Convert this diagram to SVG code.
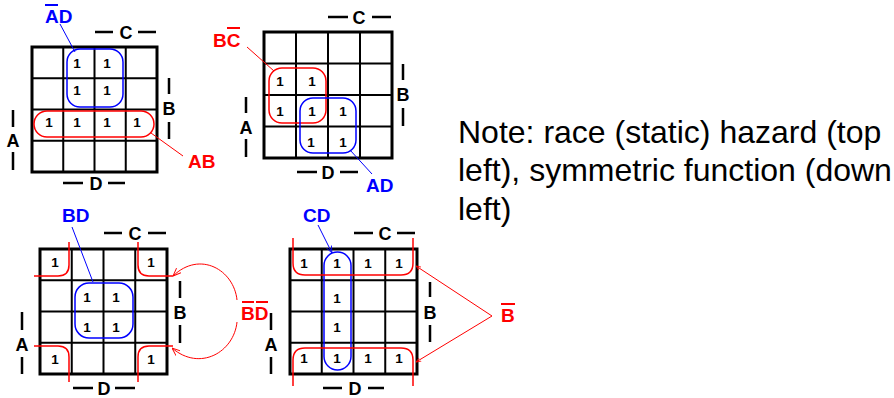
<svg xmlns="http://www.w3.org/2000/svg" width="894" height="398" viewBox="0 0 894 398">
<style>
.bg{fill:#fff}
.outer{fill:none;stroke:#000;stroke-width:3}
.inner{stroke:#000;stroke-width:2}
.bar{stroke:#000;stroke-width:2.5}
.one{font-family:"Liberation Sans",Arial,sans-serif;font-weight:bold;font-size:13.5px;text-anchor:middle;fill:#000}
.var{font-family:"Liberation Sans",Arial,sans-serif;font-weight:bold;font-size:18px;text-anchor:middle;fill:#000}
.fn{font-family:"Liberation Sans",Arial,sans-serif;font-weight:bold;font-size:19px}
.red{fill:#ff0000}
.blue{fill:#0000ff}
.rloop{fill:none;stroke:#ff0000;stroke-width:1.5}
.bloop{fill:none;stroke:#0000ff;stroke-width:1.5}
.rlead{fill:none;stroke:#ff0000;stroke-width:1}
.blead{fill:none;stroke:#0000ff;stroke-width:1}
.rbar{stroke:#ff0000;stroke-width:2}
.bbar{stroke:#0000ff;stroke-width:2}
.note{font-family:"Liberation Sans",Arial,sans-serif;font-size:32px;fill:#000}
</style>
<defs>
<marker id="ar" viewBox="0 0 10 10" refX="10" refY="5" markerWidth="8" markerHeight="8" orient="auto" markerUnits="userSpaceOnUse">
<path d="M0,1 L10,5 L0,9" fill="none" stroke="#ff0000" stroke-width="1.2"/>
</marker>
<marker id="as" viewBox="0 0 10 10" refX="10" refY="5" markerWidth="5" markerHeight="5" orient="auto" markerUnits="userSpaceOnUse">
<path d="M0,1 L10,5 L0,9" fill="none" stroke="#ff0000" stroke-width="1.5"/>
</marker>
<marker id="ab" viewBox="0 0 10 10" refX="10" refY="5" markerWidth="7" markerHeight="7" orient="auto" markerUnits="userSpaceOnUse">
<path d="M0,1 L10,5 L0,9" fill="none" stroke="#0000ff" stroke-width="1.2"/>
</marker>
</defs>
<rect class="bg" x="0" y="0" width="894" height="398"/>

<!-- Map 1 -->
<g id="map1">
<path class="inner" d="M63.25,47 V172 M94.5,47 V172 M125.75,47 V172 M32,78.25 H157 M32,109.5 H157 M32,140.75 H157"/>
<rect class="outer" x="32" y="47" width="125" height="125"/>
<text class="one" x="77" y="68">1</text><text class="one" x="107" y="68">1</text>
<text class="one" x="77" y="95">1</text><text class="one" x="107" y="95">1</text>
<text class="one" x="49" y="127">1</text><text class="one" x="77" y="127">1</text><text class="one" x="107" y="127">1</text><text class="one" x="137" y="127">1</text>
<path class="bar" d="M95,32 H113 M138,32 H156 M169,78 V94 M169,122 V139 M13,110 V127 M13,152 V170 M63,183 H83 M108,183 H125"/>
<text class="var" x="126" y="38.5">C</text>
<text class="var" x="169" y="114.5">B</text>
<text class="var" x="13" y="146.5">A</text>
<text class="var" x="96" y="189.5">D</text>
<rect class="bloop" x="67" y="49" width="56" height="58" rx="13"/>
<rect class="rloop" x="34" y="111" width="120" height="26" rx="13"/>
<text class="fn blue" x="45" y="23">AD</text>
<line class="bbar" x1="45" y1="5" x2="58" y2="5"/>
<text class="fn red" x="188" y="168">AB</text>
</g>

<!-- Map 2 -->
<g id="map2">
<path class="inner" d="M296,32 V158 M328,32 V158 M360,32 V158 M264,63.5 H392 M264,95 H392 M264,126.5 H392"/>
<rect class="outer" x="264" y="32" width="128" height="126"/>
<text class="one" x="280" y="86">1</text><text class="one" x="312" y="86">1</text>
<text class="one" x="280" y="116">1</text><text class="one" x="312" y="116">1</text><text class="one" x="343" y="116">1</text>
<text class="one" x="311" y="147">1</text><text class="one" x="343" y="147">1</text>
<path class="bar" d="M328,17 H348 M372,17 H391 M403,64 V80 M403,108 V126 M246,97 V113 M246,139 V157 M297,172 H317 M340,172 H358"/>
<text class="var" x="359" y="23.5">C</text>
<text class="var" x="403" y="100.5">B</text>
<text class="var" x="246" y="133.5">A</text>
<text class="var" x="328" y="178.5">D</text>
<rect class="rloop" x="269" y="68" width="57" height="55" rx="13"/>
<rect class="bloop" x="300" y="98" width="56" height="55" rx="13"/>
<text class="fn red" x="213" y="47">BC</text>
<line class="rbar" x1="227" y1="28" x2="240" y2="28"/>
<text class="fn blue" x="366" y="192">AD</text>
</g>

<!-- Map 3 -->
<g id="map3">
<path class="inner" d="M71.75,249 V374 M103.5,249 V374 M135.25,249 V374 M40,280.25 H167 M40,311.5 H167 M40,342.75 H167"/>
<rect class="outer" x="40" y="249" width="127" height="125"/>
<text class="one" x="55" y="267">1</text><text class="one" x="151" y="267">1</text>
<text class="one" x="87" y="302">1</text><text class="one" x="116" y="302">1</text>
<text class="one" x="87" y="332">1</text><text class="one" x="116" y="332">1</text>
<text class="one" x="55" y="364">1</text><text class="one" x="151" y="364">1</text>
<path class="bar" d="M104,233 H122 M148,233 H166 M180,281 V298 M180,325 V343 M22,312 V330 M22,357 V374 M73,388 H93 M115,388 H135"/>
<text class="var" x="135" y="239.5">C</text>
<text class="var" x="180" y="318.5">B</text>
<text class="var" x="22" y="350.5">A</text>
<text class="var" x="104" y="394.5">D</text>
<rect class="bloop" x="75" y="283" width="58" height="55" rx="14"/>
<path class="rloop" d="M69,242 V265 Q69,276 58,276 H34"/>
<path class="rloop" d="M138,242 V265 Q138,276 149,276 H173"/>
<path class="rloop" d="M34,346 H58 Q69,346 69,357 V382"/>
<path class="rloop" d="M173,346 H149 Q138,346 138,357 V382"/>
<text class="fn blue" x="62" y="222">BD</text>
<text class="fn red" x="241" y="320">BD</text>
<line class="rbar" x1="242" y1="302" x2="254" y2="302"/>
<line class="rbar" x1="256" y1="302" x2="268" y2="302"/>
</g>

<!-- Map 4 -->
<g id="map4">
<path class="inner" d="M321.75,249 V374 M353.5,249 V374 M385.25,249 V374 M290,280.25 H417 M290,311.5 H417 M290,342.75 H417"/>
<rect class="outer" x="290" y="249" width="127" height="125"/>
<text class="one" x="304" y="268">1</text><text class="one" x="337" y="268">1</text><text class="one" x="368" y="268">1</text><text class="one" x="399" y="268">1</text>
<text class="one" x="337" y="303">1</text>
<text class="one" x="337" y="332">1</text>
<text class="one" x="304" y="363">1</text><text class="one" x="337" y="363">1</text><text class="one" x="368" y="363">1</text><text class="one" x="399" y="363">1</text>
<path class="bar" d="M354,233 H373 M397,233 H415 M430,282 V297 M430,325 V342 M271,313 V330 M271,357 V374 M323,388 H342 M368,388 H384"/>
<text class="var" x="385" y="239.5">C</text>
<text class="var" x="430" y="318.5">B</text>
<text class="var" x="271" y="350.5">A</text>
<text class="var" x="355" y="394.5">D</text>
<rect class="bloop" x="324" y="252" width="27" height="118" rx="13.5"/>
<path class="rloop" d="M293,238 V263 Q293,275 305,275 H401 Q413,275 413,263 V238"/>
<path class="rloop" d="M293,386 V360 Q293,348 305,348 H401 Q413,348 413,360 V386"/>
<text class="fn blue" x="303" y="222">CD</text>
<text class="fn red" x="501" y="322">B</text>
<line class="rbar" x1="501" y1="304" x2="515" y2="304"/>
</g>

<!-- Connectors -->
<g id="connectors">
<line class="blead" x1="60" y1="24" x2="75" y2="52"/>
<line class="rlead" x1="151" y1="133" x2="183" y2="156"/>
<line class="rlead" x1="247" y1="47" x2="274" y2="71"/>
<line class="blead" x1="350" y1="150" x2="372" y2="174"/>
<line class="blead" x1="72" y1="227" x2="93" y2="282"/>
<path class="rlead" d="M237,300 C234,270 200,250 173,276" marker-end="url(#ar)"/>
<path class="rlead" d="M237,322 C234,352 200,372 172,348" marker-end="url(#ar)"/>
<line class="blead" x1="318" y1="225" x2="332" y2="253" marker-end="url(#ab)"/>
<line class="rlead" x1="492" y1="316" x2="416" y2="266" marker-end="url(#as)"/>
<line class="rlead" x1="492" y1="316" x2="416" y2="362" marker-end="url(#as)"/>
</g>

<text class="note" x="458" y="142.5">Note: race (static) hazard (top</text>
<text class="note" x="458" y="181">left), symmetric function (down</text>
<text class="note" x="458" y="219.5">left)</text>
</svg>
